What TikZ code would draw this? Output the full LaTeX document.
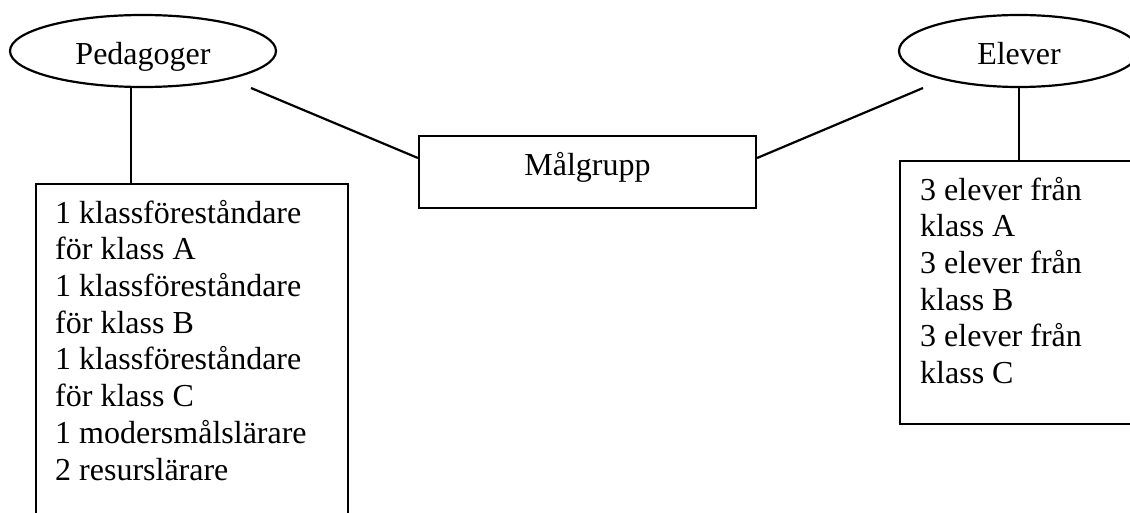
\documentclass[tikz,border=0pt]{standalone}
\usepackage{fontspec}
\setmainfont{Liberation Serif}
\usetikzlibrary{shapes.geometric,calc}
\tikzset{
  every node/.style={font=\fontsize{32}{36.7}\selectfont},
  ln/.style={line width=2.2pt, line cap=butt},
  oval/.style={ellipse, draw, line width=2.2pt, inner sep=0pt, minimum height=72pt,
               text height=28pt, text depth=0pt},
  frame/.style={rectangle, draw, line width=2.2pt, inner sep=0pt, anchor=north west},
  list/.style={align=left, inner sep=0pt, anchor=base west},
}
\begin{document}
\begin{tikzpicture}[x=1pt, y=-1pt]
  \useasboundingbox (0,0) rectangle (1130,513);
  \fill[white] (0,0) rectangle (1130,513);

  % entity ovals
  \node[oval, minimum width=266pt] (ped) at (143,51) {Pedagoger};
  \node[oval, minimum width=240pt] (elv) at (1019,51) {Elever};

  % central box
  \node[rectangle, draw, line width=2.2pt, inner sep=0pt,
        minimum width=337pt, minimum height=72pt,
        text height=22pt, text depth=14pt] (mal) at (587.5,172) {Målgrupp};

  % member lists (anchored on the baseline of the last line)
  \node[frame, minimum width=312pt, minimum height=345pt] (lbox) at (35,183) {};
  \node[list] (ltext) at (55,480) {1 klassföreståndare\\för klass A\\1 klassföreståndare\\för klass B\\1 klassföreståndare\\för klass C\\1 modersmålslärare\\2 resurslärare};

  \node[frame, minimum width=260pt, minimum height=263pt] (rbox) at (899,160) {};
  \node[list] (rtext) at (920,383.5) {3 elever från\\klass A\\3 elever från\\klass B\\3 elever från\\klass C};

  % connector end points
  \coordinate (lb) at (131,183);
  \coordinate (pa) at (251,88);
  \coordinate (ea) at (923,88);
  \coordinate (ma) at ($(mal.west)+(0,-14)$);
  \coordinate (mb) at ($(mal.east)+(0,-14)$);

  % connectors
  \draw[ln] (lb |- ped.south) -- (lb);
  \draw[ln] (elv.south) -- (elv.south |- rbox.north);
  \draw[ln] (pa) -- (ma);
  \draw[ln] (ea) -- (mb);
\end{tikzpicture}
\end{document}
